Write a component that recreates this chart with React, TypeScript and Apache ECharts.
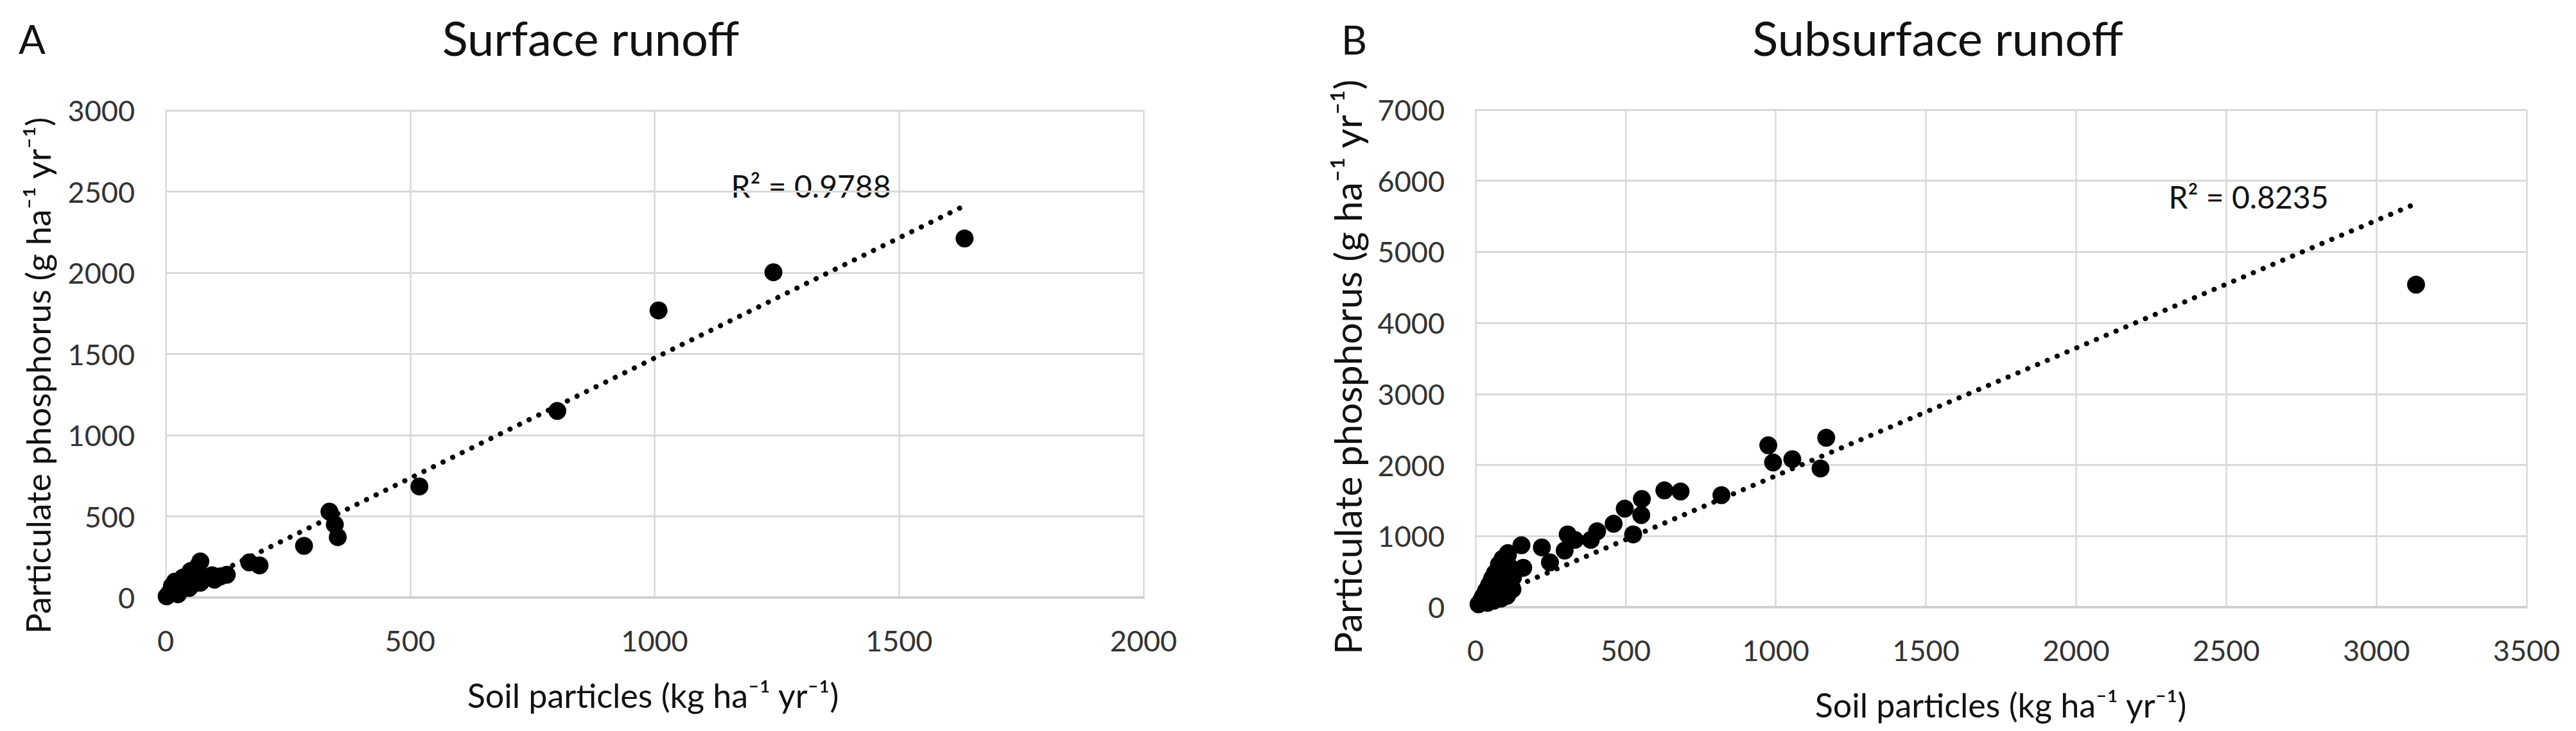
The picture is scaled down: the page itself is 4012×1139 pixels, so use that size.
import React, { useEffect, useRef } from "react";
import * as echarts from "echarts";

// Surface runoff (panel A)
const surfaceX = [1634, 1243, 1008, 801, 519, 335, 346, 352, 283, 171, 192, 112, 95, 125, 100, 71, 65, 51, 48, 71, 19, 13, 2, 25, 36, 60, 42, 8, 30, 80, 5, 55];
const surfaceY = [2211, 2003, 1768, 1149, 684, 529, 450, 372, 318, 216, 198, 130, 137, 140, 110, 222, 189, 163, 59, 91, 98, 72, 7, 20, 124, 140, 110, 30, 60, 125, 15, 80];
const surfaceTrendX = [0, 1634];
const surfaceTrendY = [-5, 2413];
const surfaceR2 = "R² = 0.9788";

// Subsurface runoff (panel B)
const subsurfaceX = [3132, 1168, 975, 991, 1055, 1149, 819, 683, 629, 554, 497, 552, 525, 460, 405, 384, 331, 307, 297, 221, 248, 153, 159, 108, 123, 10, 18, 25, 35, 45, 55, 65, 78, 90, 108, 115, 125, 120, 105, 85, 60, 40, 70, 95, 100];
const subsurfaceY = [4538, 2384, 2278, 2036, 2082, 1952, 1576, 1628, 1643, 1522, 1386, 1295, 1023, 1174, 1068, 947, 947, 1023, 796, 841, 629, 871, 554, 735, 251, 40, 90, 150, 230, 310, 400, 480, 600, 680, 760, 560, 420, 250, 160, 120, 90, 60, 300, 380, 520];
const subsurfaceTrendX = [10, 3132];
const subsurfaceTrendY = [70, 5680];
const subsurfaceR2 = "R² = 0.8235";

const xTitle = "Soil particles (kg ha⁻¹ yr⁻¹)";
const yTitle = "Particulate phosphorus (g ha⁻¹ yr⁻¹)";

const FONT = "Lato, 'Liberation Sans', sans-serif";
const GRID = "#d9d9d9";
const TXT = "#333333";

function pairs(xs: number[], ys: number[]) {
  return xs.map((x, i) => [x, ys[i]]);
}

export default function App() {
  const ref = useRef<HTMLDivElement>(null);
  useEffect(() => {
    if (!ref.current) return;
    const chart = echarts.init(ref.current, undefined, { renderer: "svg" });
    const axisCommon = (min: number, max: number, interval: number, isX: boolean) => ({
      type: "value",
      min,
      max,
      interval,
      axisLine: isX ? { show: true, lineStyle: { color: "#d0d0d0", width: 4 } } : { show: false },
      axisTick: { show: false },
      splitLine: { show: true, lineStyle: { color: GRID, width: isX ? 2.5 : 3 } },
      axisLabel: {
        fontSize: 45,
        fontFamily: FONT,
        color: TXT,
        margin: isX ? 44 : 48,
        formatter: (v: number) => String(v),
      },
    });
    const trendStyle = { color: "#000", width: 8, type: [0.1, 16.5], cap: "round" };
    const text = (t: string, x: number, y: number, size: number, rot = 0) => ({
      type: "text",
      x,
      y,
      rotation: rot,
      style: { text: t, fontSize: size, fontFamily: FONT, fill: "#111", align: "center", verticalAlign: "middle" },
    });
    chart.setOption({
      animation: false,
      backgroundColor: "#fff",
      grid: [
        { left: 258, top: 172, width: 1523, height: 759 },
        { left: 2298, top: 171, width: 1637, height: 775 },
      ],
      xAxis: [
        { ...axisCommon(0, 2000, 500, true), gridIndex: 0 },
        { ...axisCommon(0, 3500, 500, true), gridIndex: 1 },
      ],
      yAxis: [
        { ...axisCommon(0, 3000, 500, false), gridIndex: 0 },
        { ...axisCommon(0, 7000, 1000, false), gridIndex: 1 },
      ],
      series: [
        {
          type: "scatter",
          xAxisIndex: 0,
          yAxisIndex: 0,
          symbolSize: 28,
          itemStyle: { color: "#000", opacity: 1 },
          data: pairs(surfaceX, surfaceY),
        },
        {
          type: "line",
          xAxisIndex: 0,
          yAxisIndex: 0,
          showSymbol: false,
          lineStyle: trendStyle,
          data: pairs(surfaceTrendX, surfaceTrendY),
        },
        {
          type: "scatter",
          xAxisIndex: 1,
          yAxisIndex: 1,
          symbolSize: 28,
          itemStyle: { color: "#000", opacity: 1 },
          data: pairs(subsurfaceX, subsurfaceY),
        },
        {
          type: "line",
          xAxisIndex: 1,
          yAxisIndex: 1,
          showSymbol: false,
          lineStyle: trendStyle,
          data: pairs(subsurfaceTrendX, subsurfaceTrendY),
        },
      ],
      graphic: [
        text("A", 50, 60, 62),
        text("Surface runoff", 920, 58, 74),
        text("B", 2109, 61, 62),
        text("Subsurface runoff", 3018, 58, 74),
        text(yTitle, 58, 585, 53, Math.PI / 2),
        text(yTitle, 2098, 572, 59, Math.PI / 2),
        text(xTitle, 1017, 1083, 52),
        text(xTitle, 3116, 1098, 52),
        text(surfaceR2, 1263, 289, 48),
        text(subsurfaceR2, 3502, 306, 48),
      ],
    });
    return () => chart.dispose();
  }, []);
  return <div ref={ref} style={{ position: "fixed", left: 0, top: 0, width: 4012, height: 1139 }} />;
}
